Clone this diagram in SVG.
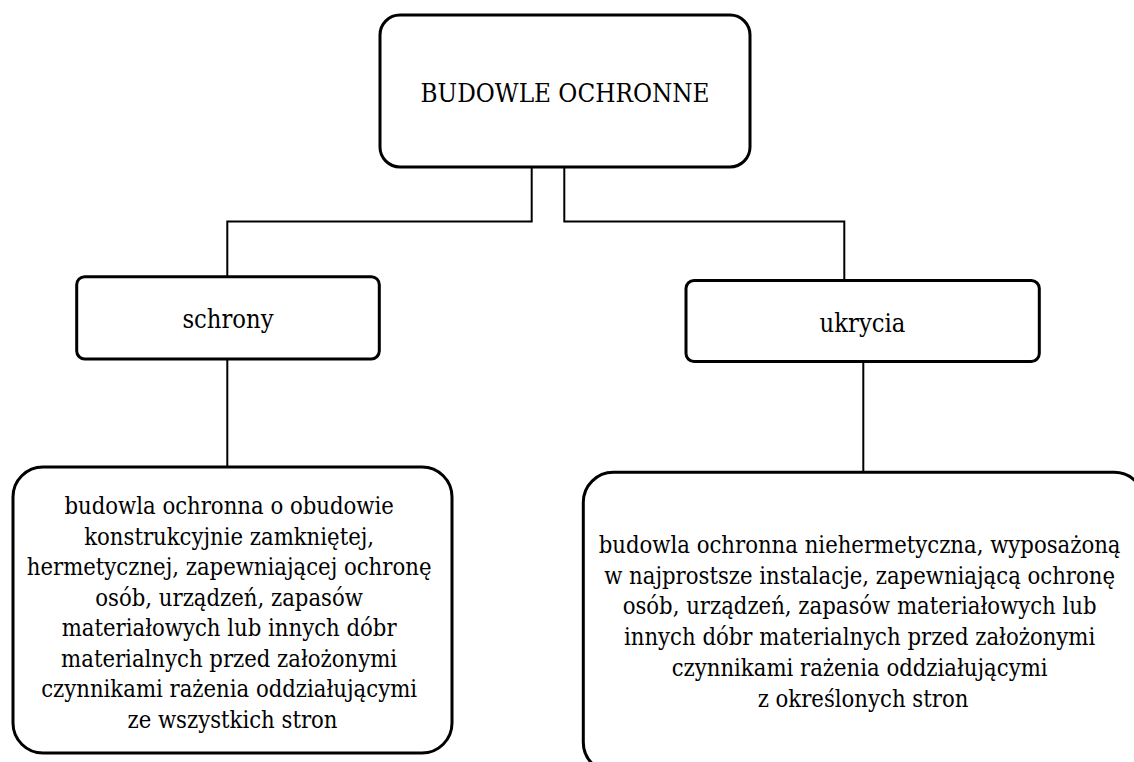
<svg xmlns="http://www.w3.org/2000/svg" width="1134" height="762" viewBox="0 0 1134 762">
<style>
.box{fill:#fff;stroke:#000;stroke-width:3}
.conn{fill:none;stroke:#000;stroke-width:2}
.body{font-size:23.6px}
.title{font-size:25.8px}
.mid{font-size:25.3px}
</style>
<rect width="1134" height="762" fill="#fff"/>
<g id="connectors">
<path class="conn" d="M531.7,167 V221.5 H227.3 V277"/>
<path class="conn" d="M564.3,167 V221.5 H844.3 V280"/>
<path class="conn" d="M227.3,359 V467"/>
<path class="conn" d="M863.3,362 V472"/>
</g>
<g fill="#000" text-anchor="middle" font-family="DejaVu Serif Condensed, DejaVu Serif, serif">
<g id="root">
<rect class="box" x="380" y="15" width="370" height="152" rx="20"/>
<text class="title" x="565" y="102">BUDOWLE OCHRONNE</text>
</g>
<g id="schrony">
<rect class="box" x="76.7" y="276.7" width="302.6" height="82.3" rx="8"/>
<text class="mid" x="228" y="328">schrony</text>
</g>
<g id="ukrycia">
<rect class="box" x="686" y="280.5" width="353.3" height="81" rx="8"/>
<text class="mid" x="862.5" y="331.5">ukrycia</text>
</g>
<g id="schrony-def">
<rect class="box" x="13" y="467" width="439" height="286" rx="30"/>
<text class="body">
<tspan x="232.5" y="514">budowla ochronna o obudowie</tspan>
<tspan x="232.5" y="544.5">konstrukcyjnie zamkniętej,</tspan>
<tspan x="232.5" y="575">hermetycznej, zapewniającej ochronę</tspan>
<tspan x="232.5" y="605.5">osób, urządzeń, zapasów</tspan>
<tspan x="232.5" y="636">materiałowych lub innych dóbr</tspan>
<tspan x="232.5" y="666.5">materialnych przed założonymi</tspan>
<tspan x="232.5" y="697">czynnikami rażenia oddziałującymi</tspan>
<tspan x="232.5" y="727.5">ze wszystkich stron</tspan>
</text>
</g>
<g id="ukrycia-def">
<rect class="box" x="583.3" y="472.3" width="561" height="300" rx="30"/>
<text class="body">
<tspan x="863" y="553">budowla ochronna niehermetyczna, wyposażoną</tspan>
<tspan x="863" y="583.7">w najprostsze instalacje, zapewniającą ochronę</tspan>
<tspan x="863" y="614.4">osób, urządzeń, zapasów materiałowych lub</tspan>
<tspan x="863" y="645.1">innych dóbr materialnych przed założonymi</tspan>
<tspan x="863" y="675.8">czynnikami rażenia oddziałującymi</tspan>
<tspan x="863" y="706.5">z określonych stron</tspan>
</text>
</g>
</g>
</svg>
